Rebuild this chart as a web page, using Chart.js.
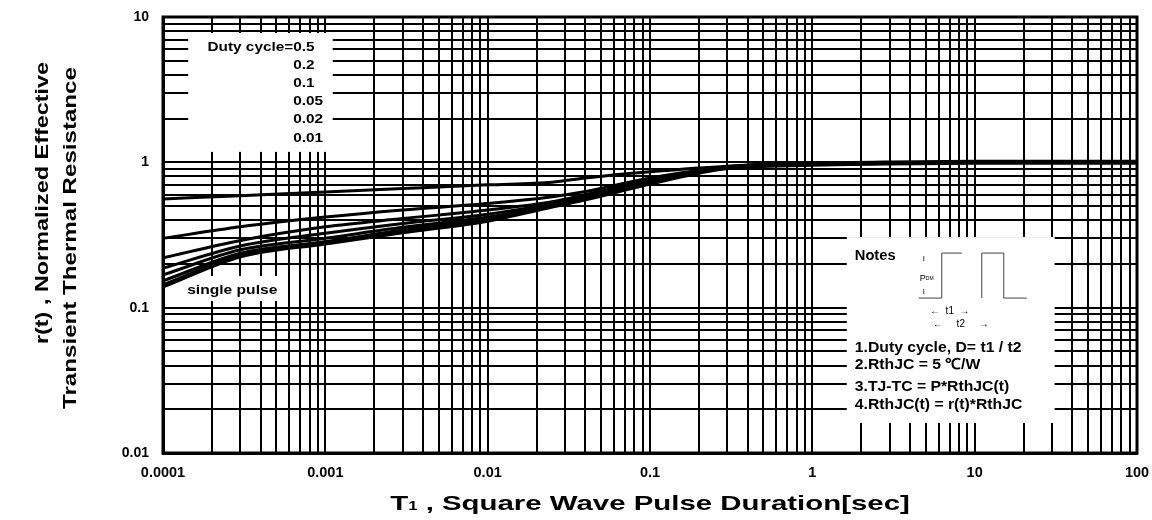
<!DOCTYPE html>
<html>
<head>
<meta charset="utf-8">
<script src="https://cdn.jsdelivr.net/npm/chart.js@4.4.1/dist/chart.umd.min.js"></script>
<style>
  body { margin: 0; background: #fff; }
  canvas { display: block; }
</style>
</head>
<body>
<canvas id="thermalChart" width="1152" height="520"></canvas>
<script>
// pulse duration (sec) and normalized r(t) for each duty cycle
const pulseTimes = [0.0001, 0.0003, 0.001, 0.003, 0.01, 0.025, 0.04, 0.1, 0.3, 1, 3, 10, 100];
const r_d050 = [0.56, 0.59, 0.625, 0.66, 0.70, 0.73, 0.78, 0.86, 0.94, 0.98, 0.99, 1.0, 1.0];
const r_d020 = [0.30, 0.36, 0.42, 0.47, 0.52, 0.58, 0.63, 0.78, 0.93, 0.98, 0.99, 1.0, 1.0];
const r_d010 = [0.22, 0.29, 0.36, 0.41, 0.47, 0.535, 0.60, 0.76, 0.93, 0.98, 0.99, 1.0, 1.0];
const r_d005 = [0.187, 0.266, 0.325, 0.38, 0.44, 0.52, 0.58, 0.74, 0.93, 0.97, 0.99, 1.0, 1.0];
const r_d002 = [0.168, 0.25, 0.30, 0.357, 0.42, 0.51, 0.57, 0.73, 0.92, 0.97, 0.99, 1.0, 1.0];
const r_d001 = [0.153, 0.237, 0.284, 0.343, 0.41, 0.505, 0.565, 0.725, 0.92, 0.97, 0.99, 1.0, 1.0];
const r_single = [0.141, 0.227, 0.279, 0.333, 0.40, 0.50, 0.56, 0.72, 0.92, 0.97, 0.99, 1.0, 1.0];

const dutyLabels = ['0.5', '0.2', '0.1', '0.05', '0.02', '0.01'];
const notesLines = ['1.Duty cycle, D= t1 / t2', '2.RthJC = 5 \u2103/W', '3.TJ-TC = P*RthJC(t)', '4.RthJC(t) = r(t)*RthJC'];

// tick labels (decades), grid uses 1..9 within each decade
const xDecades = [0.0001, 0.001, 0.01, 0.1, 1, 10, 100];
const xLabels = ['0.0001', '0.001', '0.01', '0.1', '1', '10', '100'];
const yDecades = [0.01, 0.1, 1, 10];
const yLabels = ['0.01', '0.1', '1', '10'];

const xTitle = ['T', '1', ' , Square Wave Pulse Duration[sec]'];
const yTitle = ['r(t) , Normalized Effective', 'Transient Thermal Resistance'];

const FONT = 'Liberation Sans, Arial, sans-serif';

function logTicks(decades) {
    const t = [];
    for (let i = 0; i < decades.length - 1; i++) {
        for (let m = 1; m <= 9; m++) t.push(+(m * decades[i]).toPrecision(3));
    }
    t.push(decades[decades.length - 1]);
    return t.map(v => ({ value: v }));
}

function pts(ys) {
    return pulseTimes.map((x, i) => ({ x: x, y: ys[i] }));
}

function line(data, width) {
    return {
        data: pts(data),
        borderColor: '#000',
        borderWidth: width,
        pointRadius: 0,
        cubicInterpolationMode: 'monotone',
        fill: false
    };
}

// draws text pieces [text, font] centred on (cx, cy), stretched along the text
function wideText(ctx, pieces, cx, cy, stretch, angle) {
    ctx.save();
    ctx.translate(cx, cy);
    ctx.rotate(angle || 0);
    ctx.scale(stretch, 1);
    ctx.textBaseline = 'alphabetic';
    ctx.textAlign = 'left';
    let total = 0;
    pieces.forEach(p => { ctx.font = p[1]; total += ctx.measureText(p[0]).width; });
    let x = -total / 2;
    pieces.forEach(p => {
        ctx.font = p[1];
        ctx.fillText(p[0], x, p[2] || 0);
        x += ctx.measureText(p[0]).width;
    });
    ctx.restore();
}

// white boxes in data units: [xMin, xMax, yMin, yMax]
const legendBox = [0.000143, 0.00111, 1.18, 7.76];
const notesBox = [1.63, 31.1, 0.0161, 0.306];
const singleBox = [0.000124, 0.000525, 0.111, 0.165];

const overlays = {
    id: 'overlays',
    beforeDatasetsDraw(chart) {
        const { ctx, scales: { x, y } } = chart;
        ctx.save();
        ctx.fillStyle = '#fff';
        [legendBox, notesBox, singleBox].forEach(b => {
            const x0 = x.getPixelForValue(b[0]), x1 = x.getPixelForValue(b[1]);
            const y0 = y.getPixelForValue(b[3]), y1 = y.getPixelForValue(b[2]);
            ctx.fillRect(x0, y0, x1 - x0, y1 - y0);
        });
        ctx.restore();
    },
    afterDatasetsDraw(chart) {
        const { ctx, chartArea, scales: { x, y } } = chart;
        ctx.save();
        // frame
        ctx.strokeStyle = '#000';
        ctx.lineWidth = 3;
        ctx.strokeRect(chartArea.left, chartArea.top, chartArea.right - chartArea.left, chartArea.bottom - chartArea.top);

        ctx.fillStyle = '#000';
        ctx.textBaseline = 'middle';

        // duty cycle list
        const lx = x.getPixelForValue(legendBox[0]);
        const ly = y.getPixelForValue(legendBox[3]);
        const numX = lx + 105;
        ctx.save();
        ctx.translate(numX, 0);
        ctx.scale(1.18, 1);
        ctx.font = 'bold 13px ' + FONT;
        ctx.textAlign = 'right';
        ctx.fillText('Duty cycle=', 0, ly + 14);
        ctx.textAlign = 'left';
        dutyLabels.forEach((d, i) => ctx.fillText(d, 0, ly + 14 + i * 18.2));
        ctx.restore();

        // single pulse label
        const sx = x.getPixelForValue(singleBox[0]);
        const sy = y.getPixelForValue(singleBox[3]);
        ctx.save();
        ctx.translate(sx + 9, 0);
        ctx.scale(1.2, 1);
        ctx.font = 'bold 13px ' + FONT;
        ctx.fillText('single pulse', 0, sy + 14);
        ctx.restore();

        // notes
        const nx = x.getPixelForValue(notesBox[0]);
        const ny = y.getPixelForValue(notesBox[3]);
        ctx.save();
        ctx.translate(nx + 8, 0);
        ctx.scale(1.05, 1);
        ctx.font = 'bold 14px ' + FONT;
        ctx.fillText('Notes', 0, ny + 19);
        ctx.font = 'bold 15px ' + FONT;
        [111, 128, 149.5, 168].forEach((dy, i) => ctx.fillText(notesLines[i], 0, ny + dy));
        ctx.restore();

        // pulse sketch
        ctx.strokeStyle = '#444';
        ctx.lineWidth = 1;
        const px = nx + 72, py = ny + 61, ph = 45;
        ctx.beginPath();
        ctx.moveTo(px, py); ctx.lineTo(px + 23, py); ctx.lineTo(px + 23, py - ph); ctx.lineTo(px + 43, py - ph);
        ctx.moveTo(px + 63, py); ctx.lineTo(px + 63, py - ph); ctx.lineTo(px + 83, py - ph);
        ctx.lineTo(px + 85, py - ph); ctx.lineTo(px + 85, py); ctx.lineTo(px + 108, py);
        ctx.moveTo(px + 5, py - 42); ctx.lineTo(px + 5, py - 37);
        ctx.moveTo(px + 5, py - 9); ctx.lineTo(px + 5, py - 4);
        ctx.stroke();
        ctx.textAlign = 'left';
        ctx.font = '9px ' + FONT;
        ctx.fillText('P', px + 1, py - 20);
        ctx.font = '5px ' + FONT;
        ctx.fillText('DM', px + 7, py - 19);
        ctx.font = '10px ' + FONT;
        ctx.textAlign = 'center';
        ctx.fillText('\u2190  t1  \u2192', px + 31, py + 13);
        ctx.fillText('\u2190     t2     \u2192', px + 42, py + 26);

        // axis titles
        const cx = (chartArea.left + chartArea.right) / 2;
        wideText(ctx, [[xTitle[0], 'bold 21px ' + FONT], [xTitle[1], 'bold 12px ' + FONT], [xTitle[2], 'bold 21px ' + FONT]], cx, 510, 1.4);
        wideText(ctx, [[yTitle[0], 'bold 18px ' + FONT]], 48, 203, 1.3, -Math.PI / 2);
        wideText(ctx, [[yTitle[1], 'bold 18px ' + FONT]], 76, 238, 1.34, -Math.PI / 2);
        ctx.restore();
    }
};

const ctx = document.getElementById('thermalChart').getContext('2d');
const thermalChart = new Chart(ctx, {
    type: 'line',
    data: {
        datasets: [
            line(r_d050, 3),
            line(r_d020, 3),
            line(r_d010, 3),
            line(r_d005, 3),
            line(r_d002, 3),
            line(r_d001, 3),
            line(r_single, 5)
        ]
    },
    options: {
        responsive: false,
        animation: false,
        layout: { padding: { left: 0, right: 15, top: 17, bottom: 0 } },
        plugins: {
            legend: { display: false },
            tooltip: { enabled: false }
        },
        scales: {
            x: {
                type: 'logarithmic',
                min: 0.0001,
                max: 100,
                afterBuildTicks: s => { s.ticks = logTicks(xDecades); },
                afterFit: s => { s.height = 67; s.paddingLeft = 0; s.paddingRight = 0; },
                grid: { color: '#000', lineWidth: 2, drawTicks: false },
                border: { color: '#000', width: 3 },
                ticks: {
                    autoSkip: false,
                    maxRotation: 0,
                    padding: 11,
                    color: '#000',
                    font: { family: FONT, size: 14.5, weight: 'bold' },
                    callback: v => { const i = xDecades.indexOf(v); return i >= 0 ? xLabels[i] : ''; }
                }
            },
            y: {
                type: 'logarithmic',
                min: 0.01,
                max: 10,
                afterBuildTicks: s => { s.ticks = logTicks(yDecades); },
                afterFit: s => { s.width = 163; s.paddingTop = 0; s.paddingBottom = 0; },
                grid: { color: '#000', lineWidth: 2, drawTicks: false },
                border: { color: '#000', width: 3 },
                ticks: {
                    autoSkip: false,
                    padding: 14,
                    color: '#000',
                    font: { family: FONT, size: 14, weight: 'bold' },
                    callback: v => { const i = yDecades.indexOf(v); return i >= 0 ? yLabels[i] : ''; }
                }
            }
        }
    },
    plugins: [overlays]
});
</script>
</body>
</html>
